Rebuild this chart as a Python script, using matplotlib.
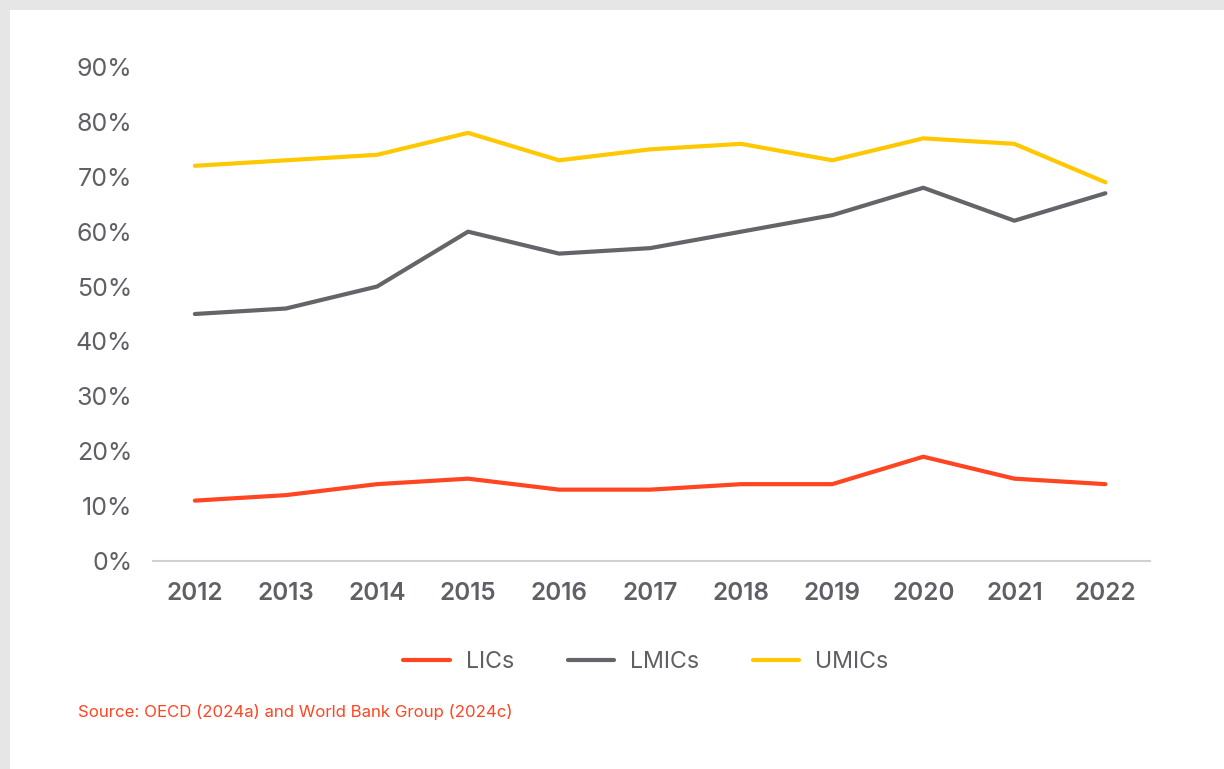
import numpy as np
import matplotlib.pyplot as plt
from matplotlib.patches import Rectangle

years = [2012, 2013, 2014, 2015, 2016, 2017, 2018, 2019, 2020, 2021, 2022]
lics = [11, 12, 14, 15, 13, 13, 14, 14, 19, 15, 14]
lmics = [45, 46, 50, 60, 56, 57, 60, 63, 68, 62, 67]
umics = [72, 73, 74, 78, 73, 75, 76, 73, 77, 76, 69]

plt.rcParams['font.family'] = ['Inter', 'DejaVu Sans']
txt = '#5f5f66'

fig = plt.figure(figsize=(12.24, 7.69), dpi=100)
fig.patch.set_facecolor('#e6e6e6')
# white card behind everything
fig.patches.append(Rectangle((10 / 1224, 0), 1, 1 - 10 / 769, transform=fig.transFigure,
                             facecolor='white', edgecolor='none', zorder=-10))

ax = fig.add_axes([153 / 1224, 1 - 561 / 769, (1150 - 153) / 1224, (561 - 67) / 769])
ax.set_facecolor('none')

x = np.arange(len(years))
ax.plot(x, lics, color='#ff4521', lw=3, label='LICs', solid_capstyle='round')
ax.plot(x, lmics, color='#646469', lw=3, label='LMICs', solid_capstyle='round')
ax.plot(x, umics, color='#ffc800', lw=3, label='UMICs', solid_capstyle='round')

ax.set_xlim(-0.46, len(years) - 0.51)
ax.set_ylim(0, 90)
ax.set_yticks(range(0, 91, 10))
ax.set_yticklabels([f'{v}%' for v in range(0, 91, 10)], fontsize=18, color=txt)
ax.set_xticks(x)
ax.set_xticklabels([str(y) for y in years], fontsize=17.5, color=txt, fontweight='semibold')
ax.tick_params(length=0)
ax.tick_params(axis='y', pad=15)
ax.tick_params(axis='x', pad=15)
for s in ['top', 'right', 'left']:
    ax.spines[s].set_visible(False)
ax.spines['bottom'].set_color('#d0d0d0')
ax.spines['bottom'].set_linewidth(1.5)

leg = ax.legend(loc='center', bbox_to_anchor=(646 / 1224, 1 - 662 / 769), bbox_transform=fig.transFigure,
                ncol=3, frameon=False, fontsize=16.7, handlelength=2.0, columnspacing=2.3, handletextpad=0.7)
for t in leg.get_texts():
    t.set_color(txt)

fig.text(78 / 1224, 1 - 712 / 769, 'Source: OECD (2024a) and World Bank Group (2024c)',
         color='#ff4521', fontsize=12.1, va='center', ha='left')

fig.savefig('out.png', dpi=100, facecolor=fig.get_facecolor())
